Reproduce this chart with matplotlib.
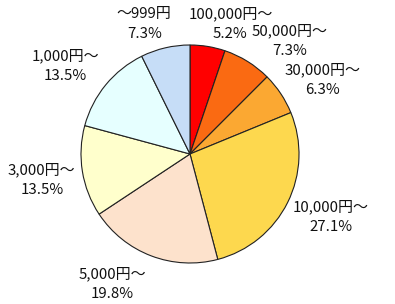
"""
Pie chart of purchase amount bands (円).
Saves out.png.
"""

import matplotlib
matplotlib.use("Agg")
import matplotlib.pyplot as plt

plt.rcParams["font.family"] = ["Noto Sans CJK JP", "DejaVu Sans"]

# data, clockwise from 12 o'clock
bands = ["100,000円～", "50,000円～", "30,000円～", "10,000円～",
         "5,000円～", "3,000円～", "1,000円～", "～999円"]
shares = [5.2, 7.3, 6.3, 27.1, 19.8, 13.5, 13.5, 7.3]

colors = ["#FF0000", "#FA6A12", "#FBA832", "#FDD84E",
          "#FDE2CC", "#FFFFCC", "#E6FFFF", "#C6DDF7"]

# label centres, in pie radius units
label_xy = [(0.37, 1.19), (0.91, 1.04), (1.22, 0.68), (1.29, -0.58),
            (-0.71, -1.19), (-1.36, -0.24), (-1.14, 0.81), (-0.42, 1.19)]
LINE_GAP = 0.092  # half the distance between the two label lines

fig = plt.figure(figsize=(3.95, 3.04), dpi=100)
ax = fig.add_axes([0, 0, 1, 1])

ax.pie(shares, colors=colors, startangle=90, counterclock=False,
       radius=1.0, center=(0, 0),
       wedgeprops=dict(edgecolor="#222222", linewidth=0.8))

for name, val, (x, y) in zip(bands, shares, label_xy):
    ax.text(x, y + LINE_GAP, name, ha="center", va="center",
            fontsize=10.8, color="#111111")
    ax.text(x, y - LINE_GAP, f"{val:.1f}%", ha="center", va="center",
            fontsize=10.8, color="#111111")

ax.set_xlim(-190 / 109, 205 / 109)
ax.set_ylim(-150 / 109, 154 / 109)
ax.axis("off")

fig.savefig("out.png", dpi=100)
